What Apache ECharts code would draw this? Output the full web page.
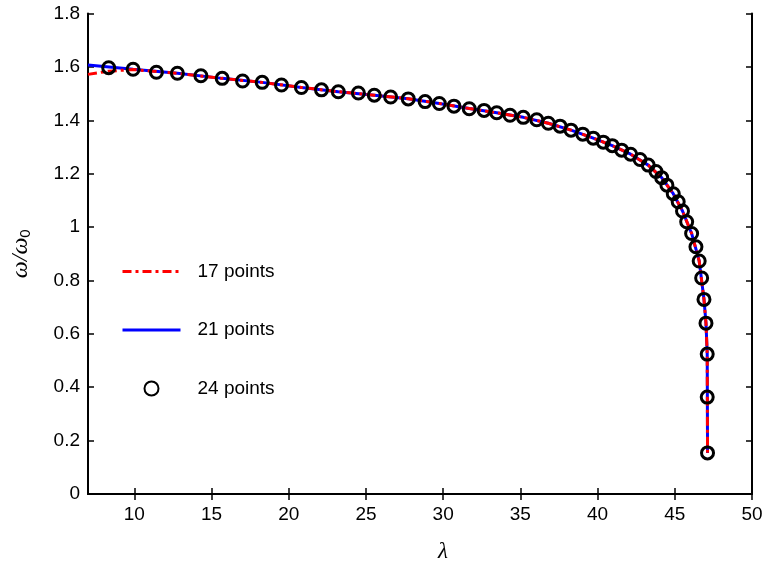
<!DOCTYPE html>
<html>
<head>
<meta charset="utf-8">
<script src="https://cdn.jsdelivr.net/npm/echarts@6/dist/echarts.min.js"></script>
<style>
  html, body { margin: 0; padding: 0; background: #fff; }
  #chart { width: 764px; height: 562px; }
</style>
</head>
<body>
<div id="chart"></div>
<script>
// Frequency ratio ω/ω0 against λ for three discretisations

// 24 points (circles)
const lambda24 = [8.34, 9.92, 11.43, 12.79, 14.31, 15.69, 17.01, 18.28, 19.53, 20.82,
  22.12, 23.21, 24.51, 25.54, 26.60, 27.74, 28.83, 29.75, 30.70, 31.69,
  32.65, 33.47, 34.33, 35.19, 36.06, 36.81, 37.57, 38.28, 39.04, 39.72,
  40.37, 40.95, 41.56, 42.14, 42.75, 43.28, 43.78, 44.15, 44.49, 44.90,
  45.22, 45.50, 45.77, 46.09, 46.37, 46.58, 46.74, 46.89, 47.02, 47.10,
  47.10, 47.12];
const omega24 = [1.597, 1.591, 1.580, 1.576, 1.567, 1.557, 1.547, 1.542, 1.532, 1.523,
  1.514, 1.507, 1.502, 1.494, 1.487, 1.480, 1.470, 1.463, 1.453, 1.443,
  1.437, 1.428, 1.419, 1.411, 1.402, 1.389, 1.378, 1.363, 1.348, 1.333,
  1.318, 1.305, 1.288, 1.273, 1.253, 1.232, 1.208, 1.185, 1.157, 1.125,
  1.095, 1.060, 1.020, 0.976, 0.926, 0.873, 0.809, 0.729, 0.640, 0.524,
  0.363, 0.154];

// 21 points (solid blue)
const lambda21 = [7.0, 9.92, 12.79, 15.69, 18.28, 20.82, 23.21, 25.54, 27.74, 29.75,
  31.69, 33.47, 35.19, 36.81, 38.28, 39.72, 40.95, 42.14, 43.28, 44.15,
  44.90, 45.50, 46.09, 46.58, 46.89, 47.02, 47.10, 47.12];
const omega21 = [1.607, 1.591, 1.576, 1.557, 1.542, 1.523, 1.507, 1.494, 1.481, 1.463,
  1.444, 1.428, 1.411, 1.389, 1.363, 1.333, 1.305, 1.273, 1.232, 1.185,
  1.125, 1.060, 0.976, 0.873, 0.729, 0.640, 0.524, 0.154];

// 17 points (red dash-dot)
const lambda17 = [7.0, 8.34, 9.92, 12.79, 15.69, 18.28, 20.82, 23.21, 25.54, 27.74,
  29.75, 31.69, 33.47, 35.19, 36.81, 38.28, 39.72, 40.95, 42.14, 43.28,
  44.15, 44.90, 45.50, 46.09, 46.58, 46.89, 47.02, 47.10, 47.12];
const omega17 = [1.572, 1.584, 1.590, 1.576, 1.557, 1.542, 1.523, 1.507, 1.494, 1.481,
  1.463, 1.444, 1.428, 1.411, 1.389, 1.363, 1.333, 1.305, 1.273, 1.232,
  1.185, 1.125, 1.060, 0.976, 0.873, 0.729, 0.640, 0.524, 0.154];

const xTicks = [10, 15, 20, 25, 30, 35, 40, 45, 50];
const seriesNames = ['17 points', '21 points', '24 points'];

const pairs = (xs, ys) => xs.map((x, i) => [x, ys[i]]);

const FONT = 'Liberation Sans, Arial, sans-serif';
const SERIF = 'Liberation Serif, Times New Roman, serif';

const lineAxis = { lineStyle: { color: '#000', width: 2 } };
const inTick = { show: true, inside: true, length: 6, lineStyle: { color: '#000', width: 1.5 } };

const chart = echarts.init(document.getElementById('chart'), null, { renderer: 'canvas' });

// legend lines carry no marker dot
const hiddenDot = { color: 'rgba(0,0,0,0)', borderWidth: 0 };

chart.setOption({
  animation: false,
  backgroundColor: '#fff',
  grid: { left: 88, right: 12, top: 13.5, bottom: 68, outerBoundsMode: 'none', containLabel: false },
  legend: {
    orient: 'vertical',
    left: 116,
    top: 257,
    itemWidth: 58,
    itemHeight: 14,
    itemGap: 39.5,
    data: [
      { name: seriesNames[0], itemStyle: hiddenDot, lineStyle: { width: 3 } },
      { name: seriesNames[1], itemStyle: hiddenDot, lineStyle: { width: 3 } },
      { name: seriesNames[2] }
    ],
    textStyle: { fontFamily: FONT, fontSize: 19, color: '#000', padding: [0, 0, 0, 12] }
  },
  xAxis: [
    {
      type: 'value', min: 7, max: 50, position: 'bottom',
      axisLine: lineAxis,
      axisTick: Object.assign({ customValues: xTicks }, inTick),
      axisLabel: { customValues: xTicks, fontFamily: FONT, fontSize: 19, color: '#000', margin: 11 },
      splitLine: { show: false },
      name: 'λ',
      nameLocation: 'middle',
      nameGap: 46,
      nameTextStyle: { fontFamily: SERIF, fontStyle: 'italic', fontSize: 23, color: '#000', padding: [0, 0, 0, 46] }
    },
    {
      type: 'value', min: 7, max: 50, position: 'top',
      axisLine: lineAxis,
      axisTick: Object.assign({ customValues: xTicks }, inTick),
      axisLabel: { show: false },
      splitLine: { show: false }
    }
  ],
  yAxis: [
    {
      type: 'value', min: 0, max: 1.8, interval: 0.2, position: 'left',
      axisLine: lineAxis,
      axisTick: inTick,
      axisLabel: { fontFamily: FONT, fontSize: 19, color: '#000', margin: 8 },
      splitLine: { show: false },
      name: '{w|ω/ω}{s|0}',
      nameLocation: 'middle',
      nameGap: 55,
      nameTextStyle: {
        color: '#000',
        rich: {
          w: { fontFamily: SERIF, fontStyle: 'italic', fontSize: 24, color: '#000', verticalAlign: 'bottom' },
          s: { fontFamily: FONT, fontSize: 15, color: '#000', verticalAlign: 'bottom', padding: [8, 0, 0, 0] }
        }
      }
    },
    {
      type: 'value', min: 0, max: 1.8, interval: 0.2, position: 'right',
      axisLine: lineAxis,
      axisTick: inTick,
      axisLabel: { show: false },
      splitLine: { show: false }
    }
  ],
  series: [
    {
      name: seriesNames[1], type: 'line', data: pairs(lambda21, omega21),
      symbol: 'none', smooth: false, z: 2,
      lineStyle: { color: '#0000ff', width: 3 },
      itemStyle: { color: '#0000ff' }
    },
    {
      name: seriesNames[0], type: 'line', data: pairs(lambda17, omega17),
      symbol: 'none', smooth: false, z: 3,
      lineStyle: { color: '#ff0000', width: 3, type: [9, 4, 3, 4] },
      itemStyle: { color: '#ff0000' }
    },
    {
      name: seriesNames[2], type: 'scatter', data: pairs(lambda24, omega24),
      symbol: 'circle', symbolSize: 12, z: 4,
      itemStyle: { color: 'rgba(0,0,0,0)', borderColor: '#000', borderWidth: 3, opacity: 1 }
    }
  ]
});
</script>
</body>
</html>
